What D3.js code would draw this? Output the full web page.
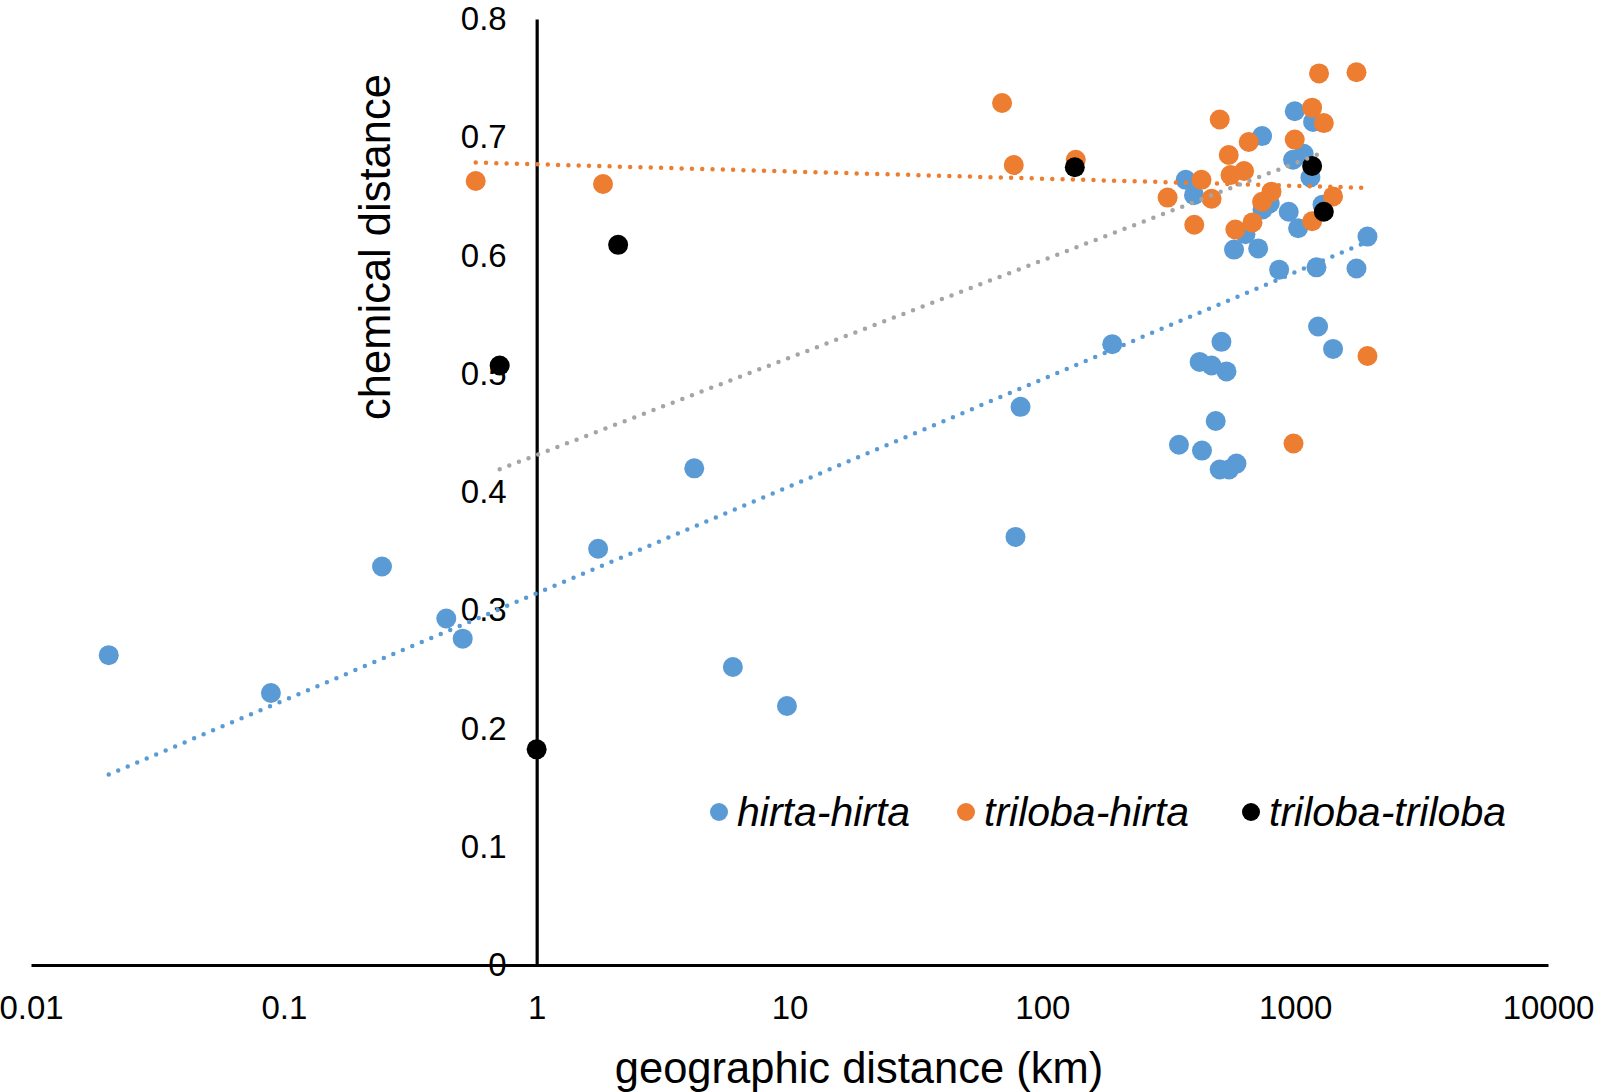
<!DOCTYPE html>
<html>
<head>
<meta charset="utf-8">
<script src="https://cdn.jsdelivr.net/npm/d3@7"></script>
<style>
  html, body { margin: 0; padding: 0; background: #fff; }
  svg { display: block; font-family: "Liberation Sans", Arial, sans-serif; }
</style>
</head>
<body>
<svg id="chart" width="1599" height="1092"></svg>
<script>
// ---------- data ----------
const seriesNames = ["hirta-hirta", "triloba-hirta", "triloba-triloba"];
const seriesColors = ["#5B9BD5", "#ED7D31", "#000000"];
const trendColors = ["#5B9BD5", "#ED7D31", "#A5A5A5"];

const hirtaHirtaX = [0.0203, 0.0889, 0.2445, 0.439, 0.510, 1.75, 4.20, 5.97, 9.77, 78.3, 82.0, 189,
  511, 419, 467, 535, 1232, 1412, 485, 347, 428, 503, 548, 586,
  996, 740, 1177, 1081, 981, 1149, 369, 398, 793, 743, 943, 1027, 1283, 636, 573, 714, 864, 1214, 1748, 1932];
const hirtaHirtaY = [0.262, 0.230, 0.337, 0.293, 0.276, 0.352, 0.420, 0.252, 0.219, 0.362, 0.472, 0.525,
  0.527, 0.510, 0.507, 0.502, 0.540, 0.521, 0.460, 0.440, 0.435, 0.419, 0.419, 0.424,
  0.722, 0.701, 0.713, 0.686, 0.681, 0.666, 0.664, 0.651, 0.644, 0.639, 0.637, 0.623, 0.643, 0.618, 0.605, 0.606, 0.588, 0.590, 0.589, 0.616];

const trilobaHirtaX = [0.574, 1.83, 69.3, 77.1, 135.6, 1243, 1748, 503, 1167, 1298, 655, 996, 546, 555,
  628, 426, 313, 467, 740, 806, 1412, 399, 580, 678, 1167, 1932, 985];
const trilobaHirtaY = [0.663, 0.6605, 0.729, 0.6765, 0.681, 0.754, 0.755, 0.715, 0.725, 0.712, 0.696, 0.698, 0.685, 0.668,
  0.6715, 0.664, 0.649, 0.648, 0.6455, 0.654, 0.650, 0.626, 0.622, 0.628, 0.629, 0.515, 0.441];

const trilobaTrilobaX = [0.714, 2.10, 1.0, 134.4, 1167, 1298];
const trilobaTrilobaY = [0.507, 0.609, 0.1824, 0.6746, 0.6757, 0.637];

const xTickValues = [0.01, 0.1, 1, 10, 100, 1000, 10000];
const xTickLabels = ["0.01", "0.1", "1", "10", "100", "1000", "10000"];
const yTickValues = [0, 0.1, 0.2, 0.3, 0.4, 0.5, 0.6, 0.7, 0.8];
const yTickLabels = ["0", "0.1", "0.2", "0.3", "0.4", "0.5", "0.6", "0.7", "0.8"];

const xTitle = "geographic distance (km)";
const yTitle = "chemical distance";

// ---------- build ----------
const seriesX = [hirtaHirtaX, trilobaHirtaX, trilobaTrilobaX];
const seriesY = [hirtaHirtaY, trilobaHirtaY, trilobaTrilobaY];
const series = seriesNames.map((name, i) => ({
  name, color: seriesColors[i], trendColor: trendColors[i],
  points: seriesX[i].map((x, j) => ({ x, y: seriesY[i][j] }))
}));

const svg = d3.select("#chart");
const x = d3.scaleLog().domain([0.01, 10000]).range([31, 1548]);
const y = d3.scaleLinear().domain([0, 0.8]).range([965, 19]);

const tickFont = 33;

// x axis (crosses at y = 0)
const xAxis = d3.axisBottom(x)
  .tickValues(xTickValues)
  .tickFormat((d, i) => xTickLabels[i])
  .tickSize(0).tickSizeOuter(0).tickPadding(31);
const gx = svg.append("g").attr("transform", `translate(0,${y(0)})`).call(xAxis);
gx.select(".domain").attr("stroke", "#000").attr("stroke-width", 3.2);
gx.selectAll("text").attr("font-size", tickFont).attr("fill", "#000")
  .attr("font-family", "'Liberation Sans', Arial, sans-serif");

// y axis (crosses at x = 1)
const yAxis = d3.axisLeft(y)
  .tickValues(yTickValues)
  .tickFormat((d, i) => yTickLabels[i])
  .tickSize(0).tickSizeOuter(0).tickPadding(30);
const gy = svg.append("g").attr("transform", `translate(${x(1)},0)`).call(yAxis);
gy.select(".domain").attr("stroke", "#000").attr("stroke-width", 3.2);
gy.selectAll("text").attr("font-size", tickFont).attr("fill", "#000")
  .attr("font-family", "'Liberation Sans', Arial, sans-serif");

// axis titles
svg.append("text")
  .attr("x", 859).attr("y", 1083)
  .attr("text-anchor", "middle")
  .attr("font-size", 43.5)
  .text(xTitle);
svg.append("text")
  .attr("transform", `translate(390,247) rotate(-90)`)
  .attr("text-anchor", "middle")
  .attr("font-size", 43.5)
  .text(yTitle);

// points
series.forEach(s => {
  svg.append("g").selectAll("circle")
    .data(s.points).join("circle")
    .attr("cx", d => x(d.x))
    .attr("cy", d => y(d.y))
    .attr("r", 10)
    .attr("fill", s.color);
});

// logarithmic trendlines (least squares on log x, as in the spreadsheet)
series.forEach(s => {
  const lx = s.points.map(p => Math.log10(p.x));
  const ly = s.points.map(p => p.y);
  const mx = d3.mean(lx), my = d3.mean(ly);
  const sxy = d3.sum(lx, (v, i) => (v - mx) * (ly[i] - my));
  const sxx = d3.sum(lx, v => (v - mx) * (v - mx));
  const m = sxy / sxx, c = my - m * mx;
  const ext = d3.extent(s.points, p => p.x);
  const line = ext.map(v => ({ x: v, y: m * Math.log10(v) + c }));
  svg.append("path")
    .datum(line)
    .attr("d", d3.line().x(d => x(d.x)).y(d => y(d.y)))
    .attr("fill", "none")
    .attr("stroke", s.trendColor)
    .attr("stroke-width", 4.5)
    .attr("stroke-linecap", "round")
    .attr("stroke-dasharray", "0 10.3");
});

// legend
const legendX = [719, 966, 1251];
const legend = svg.append("g");
series.forEach((s, i) => {
  legend.append("circle").attr("cx", legendX[i]).attr("cy", 812).attr("r", 9).attr("fill", s.color);
  legend.append("text").attr("x", legendX[i] + 18).attr("y", 826)
    .attr("font-size", 41).attr("font-style", "italic").text(s.name);
});
</script>
</body>
</html>
